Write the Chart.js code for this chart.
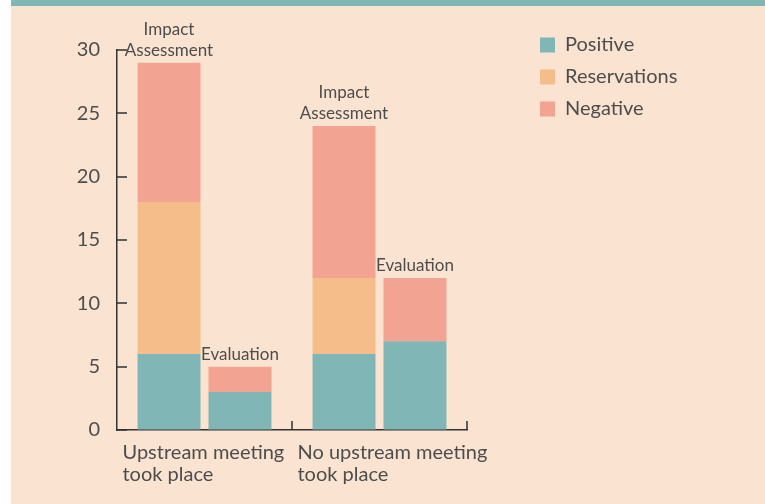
<!DOCTYPE html>
<html><head><meta charset="utf-8">
<script src="https://cdn.jsdelivr.net/npm/chart.js@4/dist/chart.umd.min.js"></script>
<style>
html,body{margin:0;padding:0;background:#fff;}
#bg{position:absolute;left:11px;top:0;width:754px;height:504px;background:#fae3d0;}
#stripe{position:absolute;left:11px;top:0;width:754px;height:6px;background:#80b6b5;}
#wrap{position:absolute;left:0;top:0;width:765px;height:504px;}
</style></head><body>
<div id="bg"></div><div id="stripe"></div>
<div id="wrap"><canvas id="c" width="765" height="504"></canvas></div>
<script>
const categories = [["Upstream meeting","took place"],["No upstream meeting","took place"]];
const stackLabels = [["Impact","Assessment"],["Evaluation"]];
const seriesNames = ["Positive","Reservations","Negative"];
const iaPositive = [6, 6];
const iaReservations = [12, 6];
const iaNegative = [11, 12];
const evPositive = [3, 7];
const evReservations = [0, 0];
const evNegative = [2, 5];
const yTicks = [0, 5, 10, 15, 20, 25, 30];

const colors = ["#80b6b5", "#f5bd8a", "#f2a391"];
const textColor = "#4d4d4d";
const axisColor = "#333333";
const FONT = "Lato";

function ds(label, data, color, stack) {
  return { label, data, backgroundColor: color, stack, borderWidth: 0,
    categoryPercentage: 0.811, barPercentage: 0.887 };
}

const datasets = [
  ds(seriesNames[0], iaPositive, colors[0], "ia"),
  ds(seriesNames[1], iaReservations, colors[1], "ia"),
  ds(seriesNames[2], iaNegative, colors[2], "ia"),
  ds(seriesNames[0], evPositive, colors[0], "ev"),
  ds(seriesNames[1], evReservations, colors[1], "ev"),
  ds(seriesNames[2], evNegative, colors[2], "ev")
];
const stackTopIndex = [2, 5];

const decorPlugin = {
  id: "decor",
  afterLayout(chart) {
    const lg = chart.legend;
    if (lg) {
      const w = lg.width, h = lg.height;
      lg.left = 528; lg.top = 23; lg.right = 528 + w; lg.bottom = 23 + h;
    }
  },
  afterDatasetsDraw(chart) {
    const ctx = chart.ctx;
    ctx.save();
    ctx.fillStyle = textColor;
    ctx.font = "17px " + FONT;
    ctx.textAlign = "center";
    ctx.textBaseline = "middle";
    stackTopIndex.forEach((di, s) => {
      const meta = chart.getDatasetMeta(di);
      meta.data.forEach(el => {
        const lines = stackLabels[s];
        for (let k = 0; k < lines.length; k++) {
          const off = 12.5 + (lines.length - 1 - k) * 21;
          ctx.fillText(lines[k], el.x, el.y - off);
        }
      });
    });
    ctx.restore();
  },
  afterDraw(chart) {
    const { ctx, chartArea } = chart;
    const x = chart.scales.x, y = chart.scales.y;
    ctx.save();
    ctx.strokeStyle = axisColor;
    ctx.lineWidth = 1.5;
    ctx.beginPath();
    y.ticks.forEach(t => {
      const py = Math.round(y.getPixelForValue(t.value));
      ctx.moveTo(chartArea.left, py);
      ctx.lineTo(chartArea.left + 10, py);
    });
    const n = x.ticks.length;
    for (let i = 1; i <= n; i++) {
      const px = i < n ? Math.round((x.getPixelForTick(i - 1) + x.getPixelForTick(i)) / 2) : chartArea.right;
      ctx.moveTo(px, chartArea.bottom);
      ctx.lineTo(px, chartArea.bottom - 9);
    }
    ctx.stroke();
    ctx.restore();
  }
};

new Chart(document.getElementById("c"), {
  type: "bar",
  data: { labels: categories, datasets },
  options: {
    responsive: false,
    devicePixelRatio: 1,
    animation: false,
    layout: { padding: { left: 0, right: 298, top: 50, bottom: 14 } },
    plugins: {
      legend: {
        position: "chartArea",
        align: "start",
        labels: {
          filter: (item) => item.datasetIndex < 3,
          boxWidth: 15, boxHeight: 15, padding: 12,
          color: textColor, font: { family: FONT, size: 20 }
        }
      },
      tooltip: { enabled: false }
    },
    scales: {
      x: {
        stacked: true,
        grid: { display: true, drawOnChartArea: false, drawTicks: false },
        border: { display: true, color: axisColor, width: 1.5 },
        ticks: { align: "start", labelOffset: -82, padding: 11, color: textColor,
          font: { family: FONT, size: 20, lineHeight: 1.12 }, maxRotation: 0, autoSkip: false },
        afterFit: (s) => { s.height = 60; }
      },
      y: {
        stacked: true,
        min: 0, max: 30,
        grid: { display: true, drawOnChartArea: false, drawTicks: false },
        border: { display: true, color: axisColor, width: 1.5 },
        ticks: { padding: 17, color: textColor, font: { family: FONT, size: 20 } },
        afterBuildTicks: (s) => { s.ticks = yTicks.map(v => ({ value: v })); },
        afterFit: (s) => { s.width = 117; }
      }
    }
  },
  plugins: [decorPlugin]
});
</script>
</body></html>
